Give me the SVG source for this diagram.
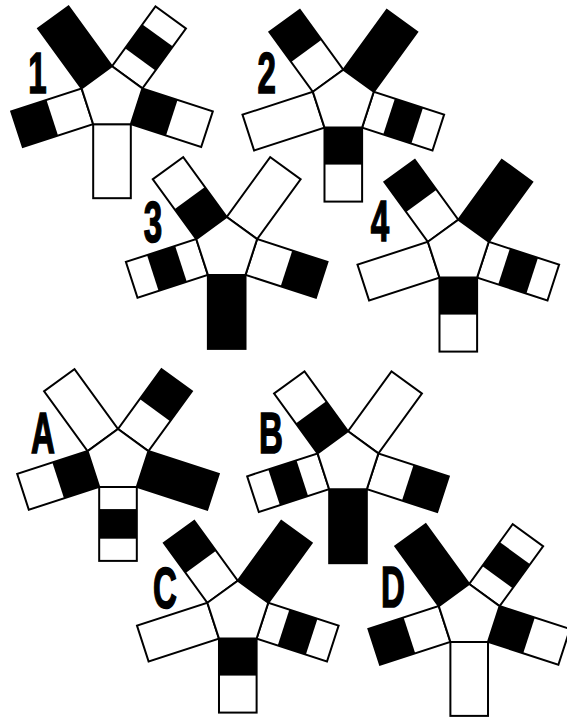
<svg xmlns="http://www.w3.org/2000/svg" xmlns:xlink="http://www.w3.org/1999/xlink" width="567" height="719" viewBox="0 0 567 719">
<style>
.o{fill:none;stroke:#000;stroke-width:2;stroke-linejoin:miter}
.w{fill:#fff}
.k{fill:#000}
.p{fill:#fff;stroke:#000;stroke-width:2;stroke-linejoin:miter}
.lbl{font-family:"Liberation Sans",Arial,sans-serif;font-weight:bold;font-size:57px;text-anchor:middle;fill:#000;stroke:#000;stroke-width:1.6;stroke-linejoin:miter}
</style>
<defs>
<g id="aW"><rect class="w" x="-18.81" y="25.89" width="37.62" height="74"/><rect class="o" x="-18.81" y="25.89" width="37.62" height="74"/></g>
<g id="aK"><rect class="k" x="-18.81" y="25.89" width="37.62" height="74"/><rect class="o" x="-18.81" y="25.89" width="37.62" height="74"/></g>
<g id="aWK"><rect class="w" x="-18.81" y="25.89" width="37.62" height="74"/><rect class="k" x="-18.81" y="62.89" width="37.62" height="37"/><rect class="o" x="-18.81" y="25.89" width="37.62" height="74"/></g>
<g id="aKW"><rect class="w" x="-18.81" y="25.89" width="37.62" height="74"/><rect class="k" x="-18.81" y="25.89" width="37.62" height="37"/><rect class="o" x="-18.81" y="25.89" width="37.62" height="74"/></g>
<g id="aWKW"><rect class="w" x="-18.81" y="25.89" width="37.62" height="74"/><rect class="k" x="-18.81" y="48.09" width="37.62" height="29.6"/><rect class="o" x="-18.81" y="25.89" width="37.62" height="74"/></g>
<polygon id="pent" class="p" points="0,-32 30.43,-9.89 18.81,25.89 -18.81,25.89 -30.43,-9.89"/>
</defs>
<rect width="567" height="719" fill="#fff"/>
<g id="connectors"/>

<g id="fig1" transform="translate(112,98.3)">
<use xlink:href="#aK" transform="rotate(144)"/>
<use xlink:href="#aWKW" transform="rotate(-144)"/>
<use xlink:href="#aKW" transform="rotate(-72)"/>
<use xlink:href="#aW"/>
<use xlink:href="#aWK" transform="rotate(72)"/>
<use xlink:href="#pent"/>
</g>
<g id="fig2" transform="translate(343.3,101.7)">
<use xlink:href="#aWK" transform="rotate(144)"/>
<use xlink:href="#aK" transform="rotate(-144)"/>
<use xlink:href="#aWKW" transform="rotate(-72)"/>
<use xlink:href="#aKW"/>
<use xlink:href="#aW" transform="rotate(72)"/>
<use xlink:href="#pent"/>
</g>
<g id="fig3" transform="translate(226.7,249)">
<use xlink:href="#aKW" transform="rotate(144)"/>
<use xlink:href="#aW" transform="rotate(-144)"/>
<use xlink:href="#aWK" transform="rotate(-72)"/>
<use xlink:href="#aK"/>
<use xlink:href="#aWKW" transform="rotate(72)"/>
<use xlink:href="#pent"/>
</g>
<g id="fig4" transform="translate(458.3,251.7)">
<use xlink:href="#aWK" transform="rotate(144)"/>
<use xlink:href="#aK" transform="rotate(-144)"/>
<use xlink:href="#aWKW" transform="rotate(-72)"/>
<use xlink:href="#aKW"/>
<use xlink:href="#aW" transform="rotate(72)"/>
<use xlink:href="#pent"/>
</g>
<g id="figA" transform="translate(118,461)">
<use xlink:href="#aW" transform="rotate(144)"/>
<use xlink:href="#aWK" transform="rotate(-144)"/>
<use xlink:href="#aK" transform="rotate(-72)"/>
<use xlink:href="#aWKW"/>
<use xlink:href="#aKW" transform="rotate(72)"/>
<use xlink:href="#pent"/>
</g>
<g id="figB" transform="translate(348,463.3)">
<use xlink:href="#aKW" transform="rotate(144)"/>
<use xlink:href="#aW" transform="rotate(-144)"/>
<use xlink:href="#aWK" transform="rotate(-72)"/>
<use xlink:href="#aK"/>
<use xlink:href="#aWKW" transform="rotate(72)"/>
<use xlink:href="#pent"/>
</g>
<g id="figC" transform="translate(237.8,612.7)">
<use xlink:href="#aWK" transform="rotate(144)"/>
<use xlink:href="#aK" transform="rotate(-144)"/>
<use xlink:href="#aWKW" transform="rotate(-72)"/>
<use xlink:href="#aKW"/>
<use xlink:href="#aW" transform="rotate(72)"/>
<use xlink:href="#pent"/>
</g>
<g id="figD" transform="translate(469.2,616)">
<use xlink:href="#aK" transform="rotate(144)"/>
<use xlink:href="#aWKW" transform="rotate(-144)"/>
<use xlink:href="#aKW" transform="rotate(-72)"/>
<use xlink:href="#aW"/>
<use xlink:href="#aWK" transform="rotate(72)"/>
<use xlink:href="#pent"/>
</g>

<g id="labels">
<text class="lbl" transform="translate(37.5,92.5) scale(0.58,1)">1</text>
<text class="lbl" transform="translate(266.7,92.5) scale(0.58,1)">2</text>
<text class="lbl" transform="translate(153,242) scale(0.58,1)">3</text>
<text class="lbl" transform="translate(380,241) scale(0.58,1)">4</text>
<text class="lbl" transform="translate(43,452.5) scale(0.58,1)">A</text>
<text class="lbl" transform="translate(271,452.5) scale(0.58,1)">B</text>
<text class="lbl" transform="translate(165,607.5) scale(0.58,1)">C</text>
<text class="lbl" transform="translate(393,607) scale(0.58,1)">D</text>
</g>
</svg>
